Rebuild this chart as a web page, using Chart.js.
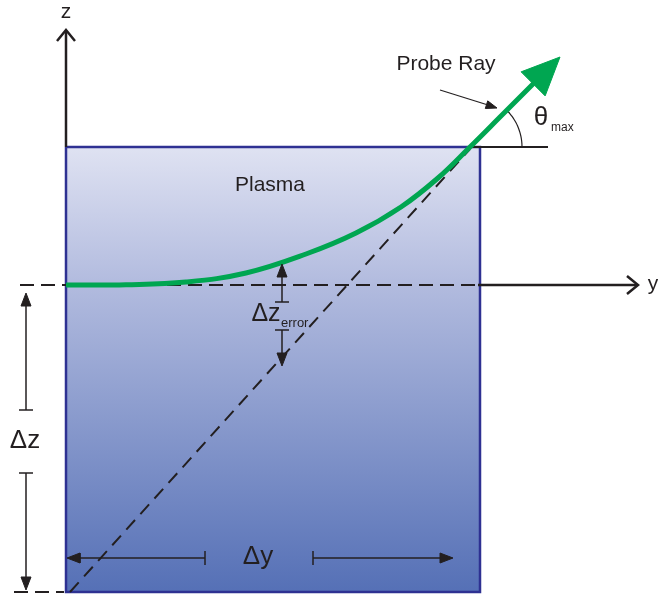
<!DOCTYPE html>
<html>
<head>
<meta charset="utf-8">
<script src="https://cdn.jsdelivr.net/npm/chart.js@4"></script>
<style>
  html, body { margin: 0; padding: 0; background: #fff; }
  #wrap { width: 658px; height: 597px; }
</style>
</head>
<body>
<div id="wrap"><canvas id="diagram"></canvas></div>
<script>
// Diagram data (u = horizontal y-axis, v = vertical z-axis, origin at wall/dashed line)
const plasmaU = [0, 414, 414, 0, 0];
const plasmaV = [138, 138, -307, -307, 138];

const rayU = [0, 60, 120, 180, 240, 290, 335, 372, 404, 437, 470];
const rayV = [0, 0.3, 3, 12, 31, 52, 78, 107, 138, 171, 204];
const rayTip = { x: 494, y: 228 };

const chordU = [4, 404];
const chordV = [-307, 136];

const thetaMaxDeg = 46;
const thetaRadius = 52;

// [from, to] pairs for the dimension arrows
const dzErrUp = [{ x: 216, y: -17 }, { x: 216, y: 21 }];
const dzErrDown = [{ x: 216, y: -45 }, { x: 216, y: -81 }];
const dzUp = [{ x: -40, y: -125 }, { x: -40, y: -8 }];
const dzDown = [{ x: -40, y: -188 }, { x: -40, y: -305 }];
const dyLeft = [{ x: 139, y: -273 }, { x: 1, y: -273 }];
const dyRight = [{ x: 247, y: -273 }, { x: 387, y: -273 }];
const probePointer = [{ x: 374, y: 195 }, { x: 431, y: 177 }];

const labels = [
  { text: 'z', x: 0, y: 273, size: 21 },
  { text: 'y', x: 587, y: 1, size: 21 },
  { text: 'Probe Ray', x: 380, y: 221, size: 21 },
  { text: 'Plasma', x: 204, y: 100, size: 21 },
  { text: 'θ', x: 475, y: 167, size: 26 },
  { text: 'max', x: 485, y: 157, size: 12, align: 'left' },
  { text: 'Δz', x: 200, y: -29, size: 25 },
  { text: 'error', x: 215, y: -38, size: 13, align: 'left' },
  { text: 'Δz', x: -41, y: -156, size: 26 },
  { text: 'Δy', x: 192, y: -272, size: 26 }
];

const INK = '#231f20';

function pts(us, vs) {
  return us.map((u, i) => ({ x: u, y: vs[i] }));
}

function line(data, color, width, extra) {
  return Object.assign({
    type: 'line',
    data: data,
    borderColor: color,
    borderWidth: width,
    pointRadius: 0,
    fill: false,
    tension: 0,
    order: 5
  }, extra || {});
}

function headPts(from, tip, len, half) {
  const dx = tip.x - from.x, dy = tip.y - from.y;
  const L = Math.hypot(dx, dy);
  const ux = dx / L, uy = dy / L;
  const bx = tip.x - ux * len, by = tip.y - uy * len;
  return [
    { x: bx - uy * half, y: by + ux * half },
    { x: tip.x, y: tip.y },
    { x: bx + uy * half, y: by - ux * half }
  ];
}

function filledHead(from, tip, len, half, color) {
  const p = headPts(from, tip, len, half);
  p.push(p[0]);
  return line(p, color, 1, { fill: 'shape', backgroundColor: color, order: 1 });
}

// dimension arrow: tick at start, filled head at end
function dimArrow(pair) {
  const [a, b] = pair;
  const dx = b.x - a.x, dy = b.y - a.y;
  const L = Math.hypot(dx, dy);
  const px = -dy / L * 7, py = dx / L * 7;
  const base = { x: b.x - dx / L * 11, y: b.y - dy / L * 11 };
  return [
    line([a, base], INK, 1.5),
    line([{ x: a.x + px, y: a.y + py }, { x: a.x - px, y: a.y - py }], INK, 1.5),
    filledHead(a, b, 13, 5, INK)
  ];
}

function arcPts() {
  const out = [];
  const c = { x: 404, y: 138 };
  for (let a = 0; a <= thetaMaxDeg; a += 4) {
    const r = a * Math.PI / 180;
    out.push({ x: c.x + thetaRadius * Math.cos(r), y: c.y + thetaRadius * Math.sin(r) });
  }
  return out;
}

const rayPts = pts(rayU, rayV);
const datasets = [
  // plasma slab
  line(pts(plasmaU, plasmaV), '#2e3192', 2.5, {
    fill: 'shape',
    order: 50,
    backgroundColor: (ctx) => {
      const ch = ctx.chart;
      const y = ch.scales.y;
      const top = y ? y.getPixelForValue(138) : NaN;
      const bot = y ? y.getPixelForValue(-307) : NaN;
      if (!isFinite(top) || !isFinite(bot)) return '#a0aad6';
      const g = ch.ctx.createLinearGradient(0, top, 0, bot);
      g.addColorStop(0, '#dfe2f2');
      g.addColorStop(0.3, '#b3bcdf');
      g.addColorStop(1, '#5570b6');
      return g;
    }
  }),
  // z axis
  line([{ x: 0, y: 138 }, { x: 0, y: 254 }], INK, 2.5, { order: 40 }),
  line(headPts({ x: 0, y: 138 }, { x: 0, y: 255 }, 11, 9), INK, 2.5, { order: 40, borderJoinStyle: 'miter' }),
  // y axis (dashed through plasma, solid outside)
  line([{ x: -46, y: 0 }, { x: 412, y: 0 }], INK, 2, { borderDash: [14, 7], order: 30 }),
  line([{ x: 412, y: 0 }, { x: 571, y: 0 }], INK, 2.5, { order: 30 }),
  line(headPts({ x: 412, y: 0 }, { x: 572, y: 0 }, 11, 9), INK, 2.5, { order: 30, borderJoinStyle: 'miter' }),
  // bottom dashed reference
  line([{ x: -52, y: -307 }, { x: -2, y: -307 }], INK, 2, { borderDash: [14, 7], order: 30 }),
  // straight-line chord
  line(pts(chordU, chordV), INK, 2, { borderDash: [13, 8], order: 20 }),
  // theta reference & arc
  line([{ x: 404, y: 138 }, { x: 482, y: 138 }], INK, 2, { order: 20 }),
  line(arcPts(), INK, 1.2, { order: 20, tension: 0.3 }),
  // probe ray
  line(rayPts, '#00a651', 5, { tension: 0.4, order: 3 }),
  filledHead(rayPts[rayPts.length - 1], rayTip, 38, 17, '#00a651'),
  // probe ray pointer
  line([probePointer[0], { x: probePointer[1].x - 9, y: probePointer[1].y + 3 }], INK, 1.2),
  filledHead(probePointer[0], probePointer[1], 11, 4, INK)
].concat(dimArrow(dzErrUp), dimArrow(dzErrDown), dimArrow(dzUp), dimArrow(dzDown), dimArrow(dyLeft), dimArrow(dyRight));

const textPlugin = {
  id: 'diagramText',
  afterDatasetsDraw(chart) {
    const { ctx, scales } = chart;
    ctx.save();
    ctx.fillStyle = INK;
    ctx.textBaseline = 'middle';
    labels.forEach(l => {
      ctx.font = l.size + 'px "Liberation Sans", Arial, sans-serif';
      ctx.textAlign = l.align || 'center';
      ctx.fillText(l.text, scales.x.getPixelForValue(l.x), scales.y.getPixelForValue(l.y));
    });
    ctx.restore();
  }
};

new Chart(document.getElementById('diagram'), {
  type: 'line',
  data: { datasets: datasets },
  options: {
    responsive: true,
    maintainAspectRatio: false,
    animation: false,
    layout: { padding: 0 },
    parsing: false,
    plugins: { legend: { display: false }, tooltip: { enabled: false } },
    scales: {
      x: { type: 'linear', display: false, min: -66, max: 592 },
      y: { type: 'linear', display: false, min: -312, max: 285 }
    }
  },
  plugins: [textPlugin]
});
</script>
</body>
</html>
